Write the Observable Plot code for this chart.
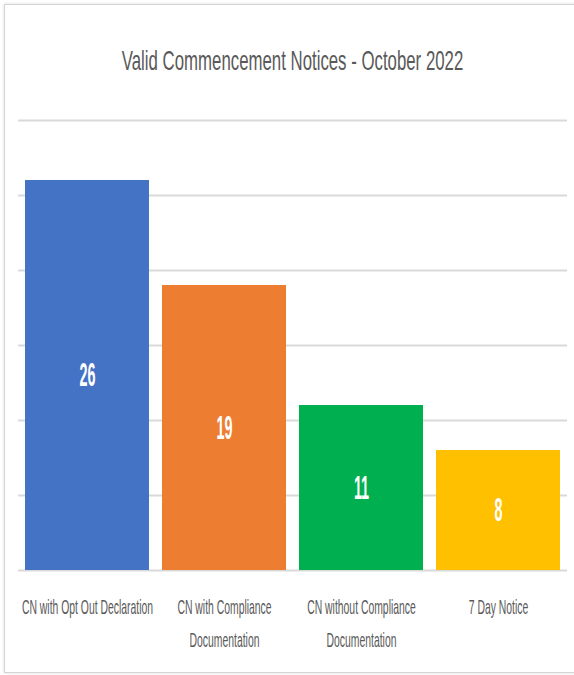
<!DOCTYPE html>
<html>
<head>
<meta charset="utf-8">
<script src="https://cdn.jsdelivr.net/npm/d3@7"></script>
<script src="https://cdn.jsdelivr.net/npm/@observablehq/plot@0.6"></script>
<style>
  html, body { margin: 0; padding: 0; background: #fff; }
  body { width: 574px; height: 675px; position: relative; overflow: hidden; }
  #frame { position: absolute; left: 4px; top: 4px; width: 620px; height: 667px;
           border: 1px solid #d4d4d4; box-shadow: 0 0 3px #dcdcdc; }
  #title { position: absolute; left: 0; top: 45px; width: 586px; text-align: center;
           font-family: "Liberation Sans", Arial, sans-serif; line-height: normal;
           font-size: 28px; color: #595959; }
  #title span { display: inline-block; transform: scaleX(0.6); transform-origin: center; white-space: nowrap; }
  #chart { position: absolute; left: 0; top: 100px; }
</style>
</head>
<body>
<div id="frame"></div>
<div id="title"><span>Valid Commencement Notices - October 2022</span></div>
<div id="chart"></div>
<script>
const categories = [
  "CN with Opt Out Declaration",
  "CN with Compliance Documentation",
  "CN without Compliance Documentation",
  "7 Day Notice"
];
const values = [26, 19, 11, 8];
const tickLabels = [
  "CN with Opt Out Declaration",
  "CN with Compliance\nDocumentation",
  "CN without Compliance\nDocumentation",
  "7 Day Notice"
];
const gridTicks = [0, 5, 10, 15, 20, 25, 30];
const colours = ["#4472C4", "#ED7D31", "#00B050", "#FFC000"];

const data = categories.map((c, i) => ({category: c, value: values[i]}));
const labelOf = new Map(categories.map((c, i) => [c, tickLabels[i]]));
const font = '"Liberation Sans", Arial, sans-serif';

const chart = Plot.plot({
  width: 574,
  height: 575,
  marginLeft: 18,
  marginRight: 7,
  marginTop: 20,
  marginBottom: 105,
  style: {fontFamily: font, background: "transparent", overflow: "visible"},
  x: {domain: categories, paddingInner: 0.092, paddingOuter: 0.046, axis: null},
  y: {domain: [0, 30], axis: null},
  color: {domain: categories, range: colours},
  marks: [
    Plot.ruleY(gridTicks, {stroke: "#d9d9d9", strokeWidth: 2}),
    Plot.barY(data, {x: "category", y: "value", fill: "category"}),
    Plot.text(data, {x: "category", y: d => d.value / 2, text: d => String(d.value),
      fill: "white", fontSize: 32, fontWeight: "bold", className: "vlabel"}),
    Plot.axisX({tickSize: 0, tickPadding: 20.5, fontSize: 20, lineHeight: 1.65, label: null,
      tickFormat: c => labelOf.get(c), fill: "#595959", textOverflow: null, lineWidth: Infinity,
      className: "xlabel"})
  ]
});

// condense the glyphs (the reference uses a narrow face)
function squeeze(sel, sx, sy) {
  chart.querySelectorAll(sel).forEach(t => {
    const tr = t.getAttribute("transform") || "";
    t.setAttribute("transform", `${tr} scale(${sx},${sy})`);
  });
}
squeeze(".vlabel text", 0.45, 1.05);
squeeze(".xlabel text", 0.52, 1);
document.getElementById("chart").appendChild(chart);
</script>
</body>
</html>
